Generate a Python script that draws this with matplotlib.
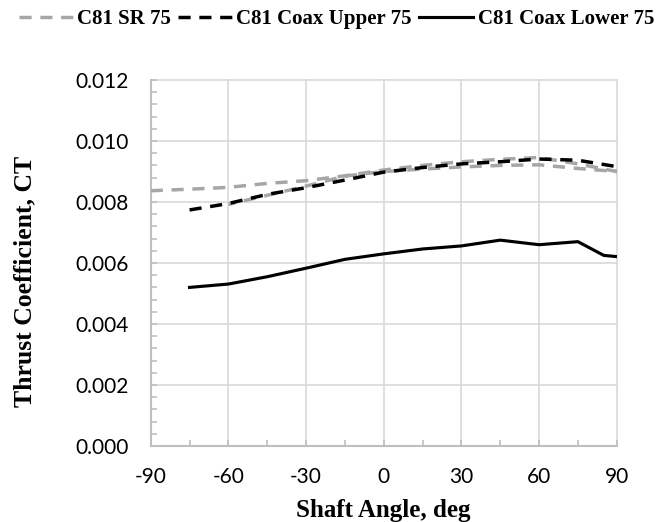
import matplotlib
matplotlib.use("Agg")
import matplotlib.pyplot as plt
from matplotlib.ticker import MultipleLocator, FormatStrFormatter

# 単独ロータ（往路・復路の2スイープ）
sr_angle_up = [-90, -75, -60, -45, -30, -15, 0, 15, 30, 45, 60, 75, 90]
sr_ct_up = [0.00837, 0.00842, 0.00848, 0.00861, 0.00870, 0.00886, 0.00905,
            0.00920, 0.00932, 0.00940, 0.00946, 0.00925, 0.00900]
sr_angle_down = [75, 60, 45, 30, 15, 0, -15, -30, -45, -60]
sr_ct_down = [0.00910, 0.00922, 0.00920, 0.00915, 0.00908, 0.00900,
              0.00885, 0.00852, 0.00822, 0.00792]

# 同軸ロータ 上側
upper_angle = [-75, -60, -45, -30, -15, 0, 15, 30, 45, 60, 75, 90]
upper_ct = [0.00774, 0.00795, 0.00825, 0.00847, 0.00872, 0.00898,
            0.00913, 0.00925, 0.00932, 0.00941, 0.00937, 0.00916]

# 同軸ロータ 下側
lower_angle = [-75, -60, -45, -30, -15, 0, 15, 30, 45, 60, 75, 85, 90]
lower_ct = [0.00520, 0.00531, 0.00555, 0.00583, 0.00612, 0.00630, 0.00646,
            0.00656, 0.00675, 0.00660, 0.00670, 0.00625, 0.00621]

x_ticks = [-90, -60, -30, 0, 30, 60, 90]

serif = ["Liberation Serif", "DejaVu Serif"]
plt.rcParams["axes.unicode_minus"] = False

fig = plt.figure(figsize=(6.66, 5.22), dpi=100)
ax = fig.add_axes([0.2263, 0.1456, 0.6997, 0.7011])

ax.plot(sr_angle_up + sr_angle_down, sr_ct_up + sr_ct_down, color="#a6a6a6",
        lw=2.5, dashes=(3.5, 2.5), label="C81 SR 75", zorder=3)
ax.plot(upper_angle, upper_ct, color="black", lw=2.5, dashes=(3.5, 2.5),
        label="C81 Coax Upper 75", zorder=4)
ax.plot(lower_angle, lower_ct, color="black", lw=2.25,
        label="C81 Coax Lower 75", zorder=5)

ax.set_xlim(-90, 90)
ax.set_ylim(0, 0.012)
ax.set_xticks(x_ticks)
ax.xaxis.set_minor_locator(MultipleLocator(15))
ax.yaxis.set_major_locator(MultipleLocator(0.002))
ax.yaxis.set_minor_locator(MultipleLocator(0.0004))
ax.yaxis.set_major_formatter(FormatStrFormatter("%.3f"))

ax.grid(True, which="major", color="#d9d9d9", lw=1.2, clip_on=False)
ax.set_axisbelow(True)
for side in ["top", "right"]:
    ax.spines[side].set_visible(False)
for side in ["left", "bottom"]:
    ax.spines[side].set_color("#bfbfbf")
    ax.spines[side].set_linewidth(1.5)

ax.tick_params(which="both", direction="in", color="#bfbfbf", width=1.2,
               length=4, labelsize=15)
ax.tick_params(axis="y", pad=16)
ax.tick_params(axis="x", pad=15)
for lab in ax.get_xticklabels() + ax.get_yticklabels():
    lab.set_family("Lato")

ax.set_xlabel("Shaft Angle, deg", family=serif, fontweight="bold", fontsize=18)
ax.set_ylabel("Thrust Coefficient, CT", family=serif, fontweight="bold", fontsize=18.5)
ax.xaxis.set_label_coords(0.5, -0.145)
ax.yaxis.set_label_coords(-0.245, 0.45)

fig.legend(loc="upper center", bbox_to_anchor=(0.505, 1.018), ncol=3,
           frameon=False, handlelength=2.6, handletextpad=0.2,
           columnspacing=0.35, prop={"family": serif, "weight": "bold", "size": 15})

fig.savefig("out.png", dpi=100)
